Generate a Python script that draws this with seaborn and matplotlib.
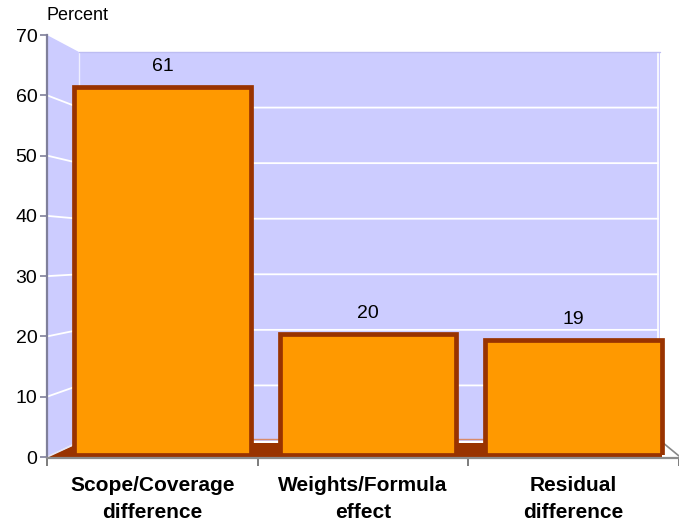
import matplotlib
matplotlib.use("Agg")
import matplotlib.pyplot as plt
import pandas as pd
import seaborn as sns
from matplotlib.patches import Polygon
from matplotlib.lines import Line2D

# ---- data -------------------------------------------------------------
categories = ["Scope/Coverage\ndifference", "Weights/Formula\neffect", "Residual\ndifference"]
values = [61, 20, 19]
y_ticks = [0, 10, 20, 30, 40, 50, 60, 70]
y_title = "Percent"

# ---- style ------------------------------------------------------------
sns.set_theme(style="white")
plt.rcParams["font.family"] = ["Liberation Sans", "DejaVu Sans"]
plt.rcParams["text.color"] = "black"
plt.rcParams["xtick.color"] = "black"
plt.rcParams["ytick.color"] = "black"

WALL = "#CCCCFF"
BAR = "#FF9900"
EDGE = "#993300"
AXIS = "#7F7F9A"

W, H, DPI = 679, 526, 100
fig = plt.figure(figsize=(W / DPI, H / DPI), dpi=DPI)

# pixel geometry of the pseudo-3D box (front plane and back wall)
FX0, FX1, FY0, FY1 = 47, 679, 457, 35
BX0, BX1, BY0, BY1 = 79, 660, 441, 52
YMAX = y_ticks[-1]


def fy(v):
    return FY0 - v * (FY0 - FY1) / YMAX


def by(v):
    return BY0 - v * (BY0 - BY1) / YMAX


def rect(x0, ytop, x1, ybot):
    return [x0 / W, 1 - ybot / H, (x1 - x0) / W, (ybot - ytop) / H]


# ---- walls, floor and gridlines on a pixel canvas ----------------------
bg = fig.add_axes([0, 0, 1, 1], zorder=0)
bg.set_xlim(0, W)
bg.set_ylim(H, 0)
bg.axis("off")

bg.add_patch(Polygon([(BX0, BY1), (BX1, BY1), (BX1, BY0), (BX0, BY0)], fc=WALL, ec="none"))
bg.add_patch(Polygon([(FX0, FY1), (BX0, BY1), (BX0, BY0), (FX0, FY0)], fc=WALL, ec="none"))
bg.add_line(Line2D([BX0, BX0], [BY1, BY0], color="white", lw=1, alpha=0.7))
bg.add_line(Line2D([BX1 - 2, BX1 - 2], [BY1, BY0], color="white", lw=1.2))
bg.add_line(Line2D([BX0, BX1], [BY1, BY1], color="#BDBDF2", lw=1))

for v in y_ticks[1:-1]:
    bg.add_line(Line2D([FX0, BX0, BX1 - 2], [fy(v), by(v), by(v)], color="white", lw=1.3))

# floor slab
bg.add_patch(Polygon([(FX0, FY0), (BX0, BY0 + 2), (BX1 + 2, BY0 + 2), (BX1 + 2, FY0)], fc=EDGE, ec="none"))
bg.add_line(Line2D([BX0, BX1 + 2], [BY0 - 2, BY0 - 2], color="#D98A6A", lw=1))
bg.add_line(Line2D([FX0, BX0 - 4], [FY0, BY0 + 3], color="#E6E6F5", lw=1.2))
bg.add_line(Line2D([BX1 + 2, FX1], [BY0 + 1, FY0 - 1], color="#888888", lw=1.2))

# ---- front axes: y axis, category axis --------------------------------
ax = fig.add_axes(rect(FX0, FY1, FX1, FY0), zorder=1)
ax.patch.set_alpha(0)
ax.set_xlim(-0.5, len(categories) - 0.5)
ax.set_ylim(0, YMAX)
for s in ["top", "right"]:
    ax.spines[s].set_visible(False)
ax.spines["left"].set_color(AXIS)
ax.spines["left"].set_linewidth(1.6)
ax.spines["bottom"].set_color("#8C8C8C")
ax.spines["bottom"].set_linewidth(1.6)
ax.spines["bottom"].set_position(("outward", 1))
ax.set_yticks(y_ticks)
ax.set_yticklabels([str(t) for t in y_ticks], fontsize=14, color="black")
ax.tick_params(axis="y", direction="out", length=5, width=1.2, color=AXIS, pad=2, left=True)
ax.set_xticks(range(len(categories)))
ax.set_xticklabels(categories, fontsize=15, fontweight="bold", linespacing=1.5, color="black")
ax.tick_params(axis="x", length=0, pad=13)
ax.set_xticks([i - 0.5 for i in range(len(categories) + 1)], minor=True)
ax.tick_params(axis="x", which="minor", direction="out", length=6, width=1.2, color="#666666", bottom=True)
ax.text(0, 1.025, y_title, transform=ax.transAxes, fontsize=13, ha="left", va="bottom")

# ---- bars (mid-depth plane) --------------------------------------------
bx = fig.add_axes(rect(60, FY1 - 2, 676, FY0 - 2), zorder=2)
bx.patch.set_alpha(0)
df = pd.DataFrame({"category": categories, "value": values})
sns.barplot(data=df, x="category", y="value", ax=bx, color=BAR, saturation=1,
            width=0.86, edgecolor=EDGE, linewidth=3.4)
bx.set_xlim(-0.5, len(categories) - 0.5)
bx.set_ylim(0, YMAX)
bx.axis("off")
for p in bx.patches:
    p.set_joinstyle("miter")
bx.bar_label(bx.containers[0], labels=[str(v) for v in values], padding=9, fontsize=14)

fig.savefig("out.png", dpi=DPI)
